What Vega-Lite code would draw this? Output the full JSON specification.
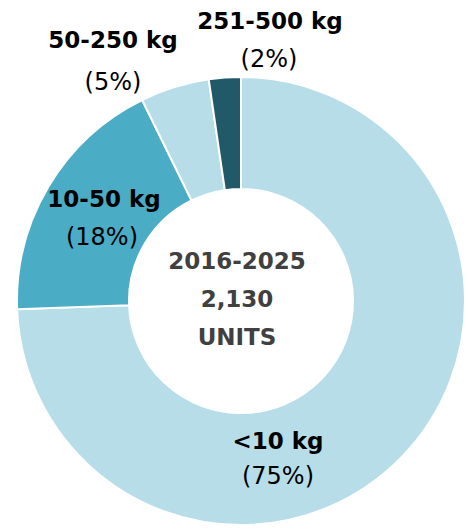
{
  "$schema": "https://vega.github.io/schema/vega-lite/v6.json",
  "width": 458,
  "height": 458,
  "autosize": {"type": "none"},
  "padding": {"left": 12, "top": 72, "right": 1, "bottom": 0},
  "background": "white",
  "config": {"view": {"stroke": null}, "text": {"font": "DejaVu Sans"}},
  "data": {
    "values": [
      {"size": "<10 kg", "units": 1585, "share": "(75%)"},
      {"size": "10-50 kg", "units": 390, "share": "(18%)"},
      {"size": "50-250 kg", "units": 106, "share": "(5%)"},
      {"size": "251-500 kg", "units": 49, "share": "(2%)"}
    ]
  },
  "layer": [
    {
      "mark": {"type": "arc", "outerRadius": 224, "innerRadius": 112, "stroke": "white", "strokeWidth": 2},
      "encoding": {
        "theta": {"field": "units", "type": "quantitative", "stack": true},
        "order": {"field": "units", "sort": "descending"},
        "color": {
          "field": "size",
          "type": "nominal",
          "scale": {"domain": ["<10 kg", "10-50 kg", "50-250 kg", "251-500 kg"], "range": ["#b7dee8", "#4bacc6", "#b7dee8", "#215968"]},
          "legend": null
        }
      }
    },
    {
      "transform": [{"filter": "datum.size === '<10 kg'"}],
      "mark": {"type": "text", "fontWeight": "bold", "fontSize": 23, "align": "center", "baseline": "alphabetic", "dx": 37, "dy": 148, "color": "black"},
      "encoding": {"text": {"field": "size"}}
    },
    {
      "transform": [{"filter": "datum.size === '<10 kg'"}],
      "mark": {"type": "text", "fontSize": 24, "align": "center", "baseline": "alphabetic", "dx": 37, "dy": 183, "color": "black"},
      "encoding": {"text": {"field": "share"}}
    },
    {
      "transform": [{"filter": "datum.size === '10-50 kg'"}],
      "mark": {"type": "text", "fontWeight": "bold", "fontSize": 23, "align": "center", "baseline": "alphabetic", "dx": -137, "dy": -94, "color": "black"},
      "encoding": {"text": {"field": "size"}}
    },
    {
      "transform": [{"filter": "datum.size === '10-50 kg'"}],
      "mark": {"type": "text", "fontSize": 24, "align": "center", "baseline": "alphabetic", "dx": -139, "dy": -56, "color": "black"},
      "encoding": {"text": {"field": "share"}}
    },
    {
      "transform": [{"filter": "datum.size === '50-250 kg'"}],
      "mark": {"type": "text", "fontWeight": "bold", "fontSize": 23, "align": "center", "baseline": "alphabetic", "dx": -128, "dy": -253, "color": "black"},
      "encoding": {"text": {"field": "size"}}
    },
    {
      "transform": [{"filter": "datum.size === '50-250 kg'"}],
      "mark": {"type": "text", "fontSize": 24, "align": "center", "baseline": "alphabetic", "dx": -128, "dy": -211, "color": "black"},
      "encoding": {"text": {"field": "share"}}
    },
    {
      "transform": [{"filter": "datum.size === '251-500 kg'"}],
      "mark": {"type": "text", "fontWeight": "bold", "fontSize": 23, "align": "center", "baseline": "alphabetic", "dx": 29, "dy": -272, "color": "black"},
      "encoding": {"text": {"field": "size"}}
    },
    {
      "transform": [{"filter": "datum.size === '251-500 kg'"}],
      "mark": {"type": "text", "fontSize": 24, "align": "center", "baseline": "alphabetic", "dx": 28, "dy": -234, "color": "black"},
      "encoding": {"text": {"field": "share"}}
    },
    {
      "data": {"values": [{"center": ["2016-2025", "2,130", "UNITS"]}]},
      "mark": {"type": "text", "fontWeight": "bold", "fontSize": 23, "align": "center", "baseline": "alphabetic", "lineHeight": 38, "dx": -4, "dy": -32, "color": "#404040"},
      "encoding": {"text": {"field": "center"}}
    }
  ]
}
